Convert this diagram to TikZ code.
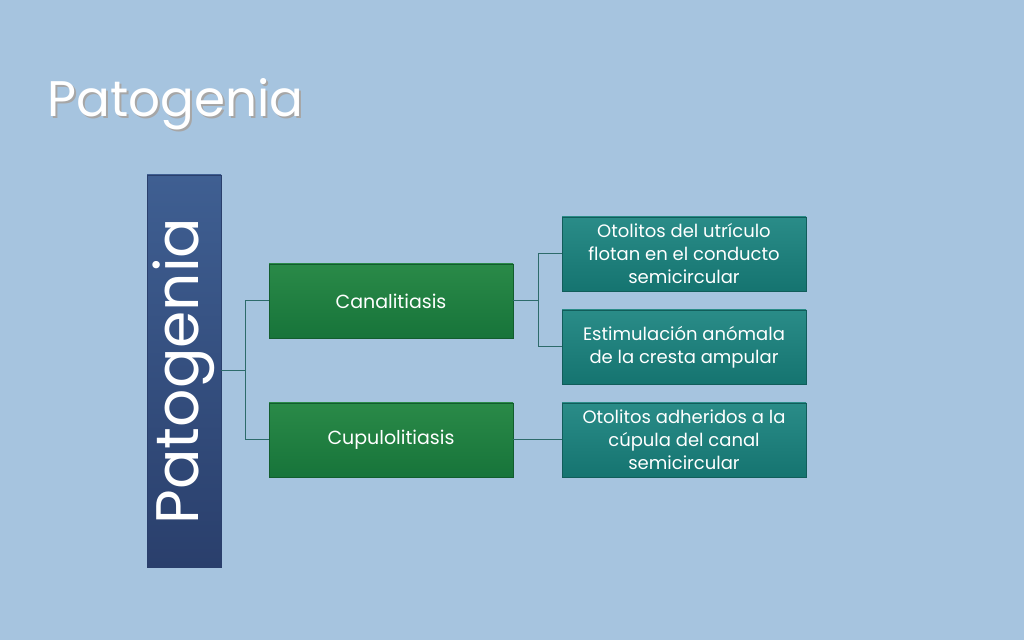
\documentclass[tikz,border=0pt]{standalone}
\usepackage{fontspec}
\setmainfont{Poppins}
\usetikzlibrary{positioning}
\definecolor{bgblue}{HTML}{A6C4DF}
\definecolor{topblue}{HTML}{3F5F92}
\definecolor{botblue}{HTML}{2A3F6C}
\definecolor{greentop}{HTML}{2A8A48}
\definecolor{greenbot}{HTML}{17743A}
\definecolor{tealtop}{HTML}{2A8C88}
\definecolor{tealbot}{HTML}{157470}
\definecolor{linkcol}{HTML}{2D6B6B}
\begin{document}
\begin{tikzpicture}
    [x=0.5pt,y=-0.5pt,
    levelone/.style = {minimum width=122pt,minimum height=37pt,inner sep=2pt,
        top color=greentop,bottom color=greenbot,draw=greenbot!80!black,line width=0.3pt,
        text=white,font=\fontsize{9.5}{11}\selectfont,align=center},
    leveltwo/.style = {minimum width=122pt,minimum height=37pt,inner sep=1pt,
        top color=tealtop,bottom color=tealbot,draw=tealbot!80!black,line width=0.3pt,
        text=white,font=\fontsize{9}{11.5}\selectfont,align=center},
    link/.style = {draw=linkcol,line width=0.5pt}
    ]
\fill[bgblue] (0,0) rectangle (1024,640);
\useasboundingbox (0,0) rectangle (1024,640);

\node[text=black!35,font=\fontsize{25}{30}\selectfont,anchor=west,inner sep=0pt] at (49,106) {Patogenia};
\node[text=white,font=\fontsize{25}{30}\selectfont,anchor=west,inner sep=0pt] (title) at (47,104) {Patogenia};

\node[minimum width=37pt,minimum height=196pt,inner sep=0pt,
      top color=topblue,bottom color=botblue,draw=botblue] (root) at (184,371) {};
\node[rotate=90,text=white,font=\fontsize{30}{36}\selectfont] at (root.center) {Patogenia};

\node[levelone] (cana) at (391,301) {Canalitiasis};
\node[levelone] (cupu) at (391,440) {Cupulolitiasis};

\node[leveltwo] (oto1) at (684,254) {Otolitos del utrículo\\flotan en el conducto\\semicircular};
\node[leveltwo] (esti) at (684,347) {Estimulación anómala\\de la cresta ampular};
\node[leveltwo] (oto2) at (684,440) {Otolitos adheridos a la\\cúpula del canal\\semicircular};

\coordinate (j1) at (245,371);
\coordinate (j2) at (538,301);
\draw[link] (root.east) -- (j1) |- (cana.west);
\draw[link] (j1) |- (cupu.west);
\draw[link] (cana.east) -- (j2) |- (oto1.west);
\draw[link] (j2) |- (esti.west);
\draw[link] (cupu.east) -- (oto2.west);

\end{tikzpicture}
\end{document}
